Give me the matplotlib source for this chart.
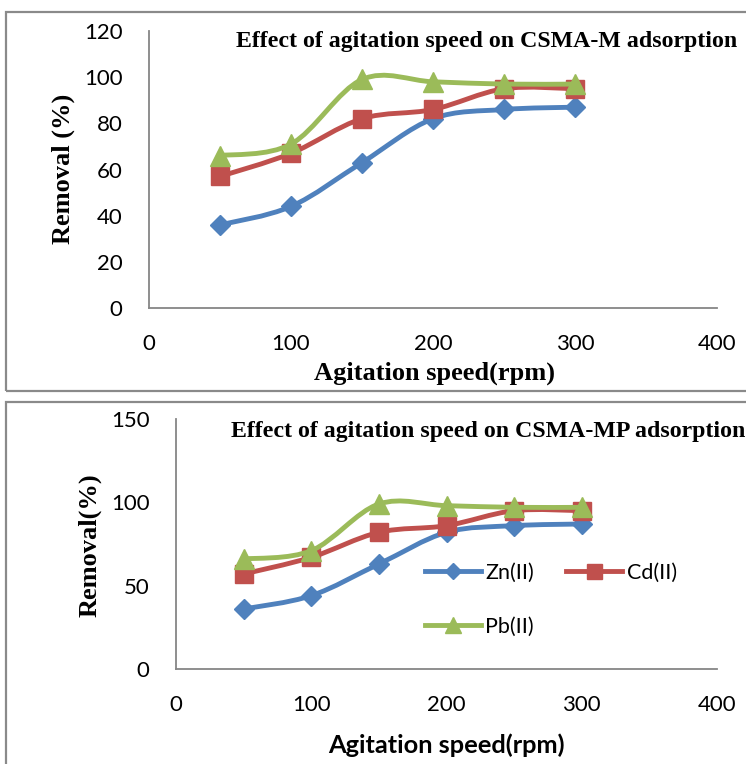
import matplotlib
matplotlib.use("Agg")
import matplotlib.pyplot as plt
from matplotlib.path import Path
from matplotlib.patches import PathPatch, Rectangle
from matplotlib.lines import Line2D

# 데이터
speed = [50, 100, 150, 200, 250, 300]
zn = [36, 44, 63, 82, 86, 87]
cd = [57, 67, 82, 86, 95, 95]
pb = [66, 71, 99, 98, 97, 97]

series_names = ['Zn(II)', 'Cd(II)', 'Pb(II)']
colors = ['#4F81BD', '#C0504D', '#9BBB59']
markers = ['D', 's', '^']
msizes = [10, 13.5, 14]

W, H = 746, 764


def smooth_path(x, y):
    # excel style smoothed line (catmull-rom -> bezier)
    pts = list(zip(x, y))
    verts = [pts[0]]
    codes = [Path.MOVETO]
    for i in range(len(pts) - 1):
        p0 = pts[i - 1] if i > 0 else pts[i]
        p1 = pts[i]
        p2 = pts[i + 1]
        p3 = pts[i + 2] if i + 2 < len(pts) else pts[i + 1]
        c1 = (p1[0] + (p2[0] - p0[0]) / 6, p1[1] + (p2[1] - p0[1]) / 6)
        c2 = (p2[0] - (p3[0] - p1[0]) / 6, p2[1] - (p3[1] - p1[1]) / 6)
        verts += [c1, c2, p2]
        codes += [Path.CURVE4] * 3
    return Path(verts, codes)


def px(x0, y0, x1, y1):
    # pixel box -> figure coords [left, bottom, width, height]
    return [x0 / W, 1 - y1 / H, (x1 - x0) / W, (y1 - y0) / H]


def draw_panel(ax, ymax, ystep):
    for i, vals in enumerate([zn, cd, pb]):
        patch = PathPatch(smooth_path(speed, vals), fill=False, edgecolor=colors[i],
                          lw=3.5, zorder=3 + i * 2, capstyle='round', joinstyle='round')
        ax.add_patch(patch)
        ax.plot(speed, vals, ls='none', marker=markers[i], ms=msizes[i],
                color=colors[i], mec=colors[i], zorder=4 + i * 2, clip_on=False)
    ax.set_xlim(0, 400)
    ax.set_ylim(0, ymax)
    ax.set_xticks(range(0, 401, 100))
    ax.set_yticks(range(0, ymax + 1, ystep))
    for s in ['top', 'right']:
        ax.spines[s].set_visible(False)
    for s in ['left', 'bottom']:
        ax.spines[s].set_color('#868686')
        ax.spines[s].set_linewidth(1.3)
    ax.tick_params(length=0, pad=19, labelsize=16)
    for lab in ax.get_xticklabels() + ax.get_yticklabels():
        lab.set_fontfamily('Lato')


fig = plt.figure(figsize=(W / 100, H / 100), dpi=100)

# 패널 테두리
fig.add_artist(Rectangle((6 / W, 1 - 391 / H), 1.0, (391 - 12) / H, transform=fig.transFigure,
                         fill=False, ec='#8A8A8A', lw=1.6))
fig.add_artist(Rectangle((6 / W, -0.1), 1.0, 0.1 + 1 - 402 / H, transform=fig.transFigure,
                         fill=False, ec='#8A8A8A', lw=1.6))

# 위 그래프 (CSMA-M)
ax1 = fig.add_axes(px(149, 31, 717, 308))
draw_panel(ax1, 120, 20)
fig.text(487 / W, 1 - 42 / H, 'Effect of agitation speed on CSMA-M adsorption',
         ha='center', va='center', fontsize=17.2, fontweight='bold', family='Liberation Serif')
fig.text(63 / W, 1 - 169 / H, 'Removal (%)', rotation=90, ha='center', va='center',
         fontsize=19, fontweight='bold', family='Liberation Serif')
fig.text(434 / W, 1 - 373 / H, 'Agitation speed(rpm)', ha='center', va='center',
         fontsize=19, fontweight='bold', family='Liberation Serif')

# 아래 그래프 (CSMA-MP)
ax2 = fig.add_axes(px(176, 419, 717, 669))
draw_panel(ax2, 150, 50)
fig.text(488 / W, 1 - 431 / H, 'Effect of agitation speed on CSMA-MP adsorption',
         ha='center', va='center', fontsize=17.2, fontweight='bold', family='Liberation Serif')
fig.text(90 / W, 1 - 545 / H, 'Removal(%)', rotation=90, ha='center', va='center',
         fontsize=19, fontweight='bold', family='Liberation Serif')
fig.text(446 / W, 1 - 745 / H, 'Agitation speed(rpm)', ha='center', va='center',
         fontsize=18.3, fontweight='bold', family='Lato')

# 범례 (row order: Zn, Cd / Pb)
handles = [Line2D([], [], color=colors[i], lw=3.5, marker=markers[i], ms=msizes[i] * 0.8,
                  mec=colors[i]) for i in range(3)]
order = [0, 2, 1]
leg = ax2.legend([handles[i] for i in order], [series_names[i] for i in order],
                 loc='upper left', bbox_to_anchor=(425 / W, 1 - 563 / H),
                 bbox_transform=fig.transFigure, ncol=2, frameon=False, borderpad=0,
                 borderaxespad=0, handlelength=2.6, handletextpad=0.2, columnspacing=1.5,
                 labelspacing=1.55, prop={'family': 'Lato', 'size': 15.5})

fig.savefig('out.png', dpi=100)
